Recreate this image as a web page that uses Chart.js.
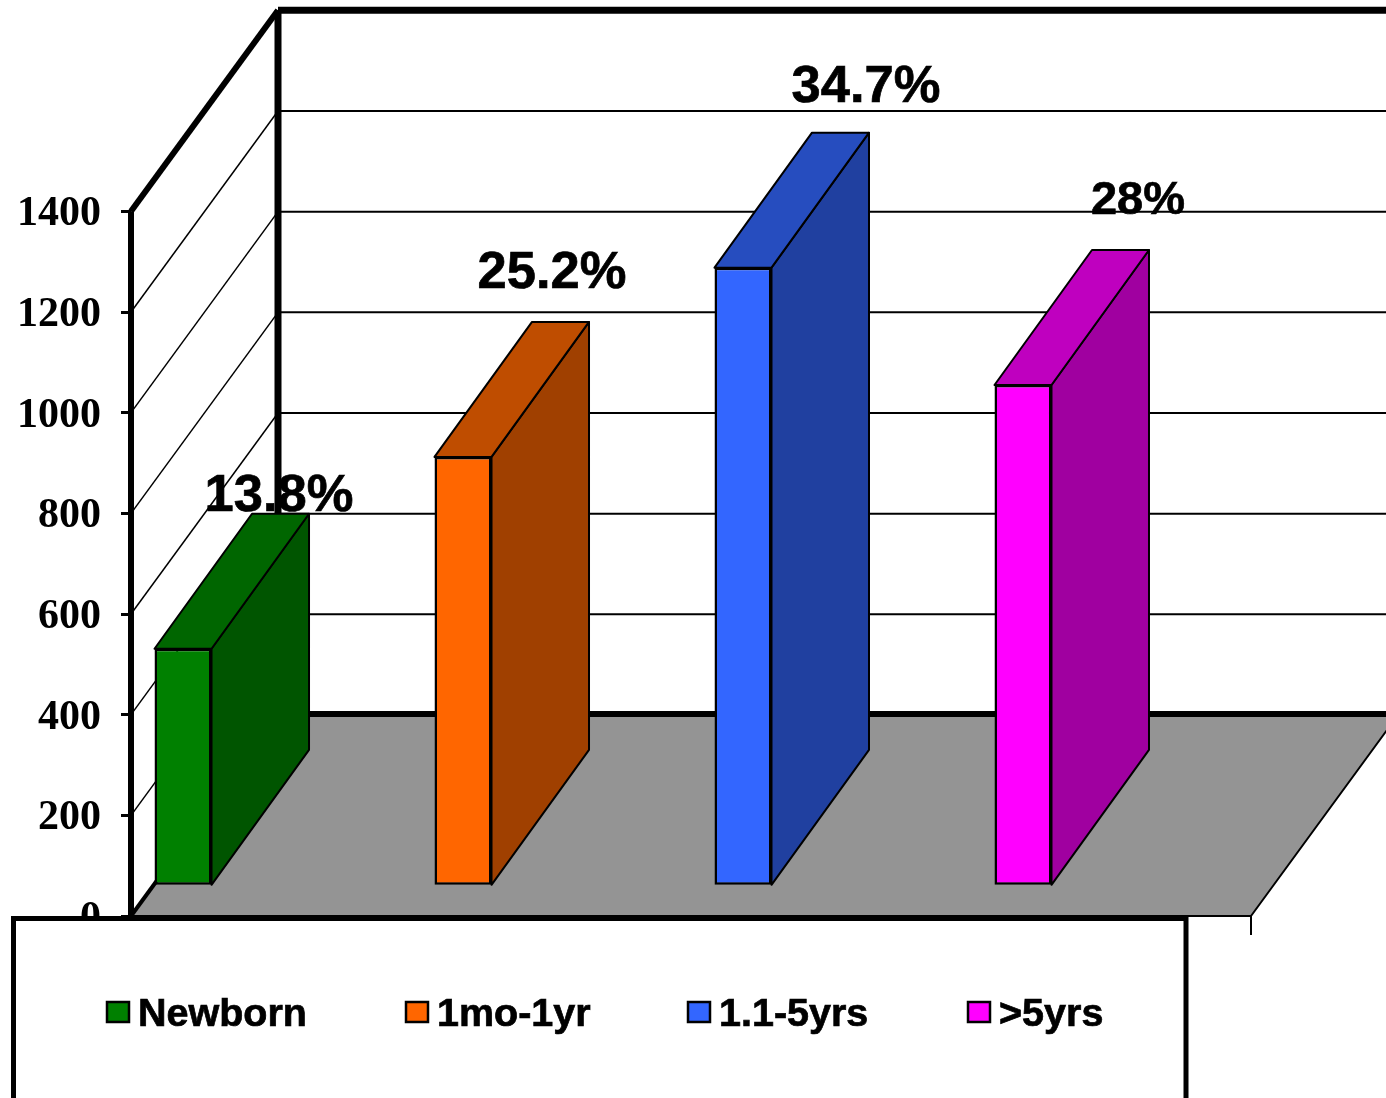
<!DOCTYPE html>
<html>
<head>
<meta charset="utf-8">
<style>
  html, body { margin: 0; padding: 0; background: #fff; }
  canvas { display: block; }
</style>
<script src="https://cdn.jsdelivr.net/npm/chart.js@4"></script>
</head>
<body>
<canvas id="c" width="1386" height="1098"></canvas>
<script>
const seriesNames = ['Newborn', '1mo-1yr', '1.1-5yrs', '>5yrs'];
const seriesValues = [469, 850, 1226, 993];
const percentLabels = ['13.8%', '25.2%', '34.7%', '28%'];
const yTickMax = 1400;
const yAxisMax = 1800;

const frontColors = ['#008000', '#FF6600', '#3366FF', '#FF00FF'];
const topColors = ['#006600', '#BF4D00', '#264DBF', '#BF00BF'];
const sideColors = ['#005500', '#A04000', '#2040A0', '#A000A0'];

// hand placed, the 3d labels do not follow one rule
const labelOffsets = [[96, -138], [89, -169], [123, -166], [115, -171]];
const labelSizes = [52.5, 52.5, 52.5, 47];
const legendX = [107, 406, 688, 968];

const wallDx = 147, wallDy = -201;
const barDx = 97.5, barDy = -135;
const barLift = 62; // bars stand on the floor, a bit behind the front edge
const floorWidth = 1120;

function line(ctx, x1, y1, x2, y2, w) {
  ctx.lineWidth = w;
  ctx.beginPath();
  ctx.moveTo(x1, y1);
  ctx.lineTo(x2, y2);
  ctx.stroke();
}

function poly(ctx, pts, fill, w) {
  ctx.beginPath();
  pts.forEach((p, i) => i ? ctx.lineTo(p[0], p[1]) : ctx.moveTo(p[0], p[1]));
  ctx.closePath();
  ctx.fillStyle = fill;
  ctx.fill();
  if (w) { ctx.lineWidth = w; ctx.stroke(); }
}

const scene = {
  id: 'scene',
  beforeDatasetsDraw(chart) {
    const { ctx, scales: { y } } = chart;
    const W = chart.width;
    const x0 = y.right, y0 = y.getPixelForValue(0);
    const xb = x0 + wallDx;
    ctx.save();
    ctx.strokeStyle = '#000';
    ctx.lineJoin = 'round';

    // floor
    const fr = x0 + floorWidth;
    poly(ctx, [[x0, y0], [xb, y0 + wallDy], [fr + wallDx, y0 + wallDy], [fr, y0]], '#949494', 2);
    line(ctx, fr, y0, fr, y0 + 19, 2);

    // gridlines on the side and back walls
    for (let v = 200; v < yTickMax; v += 200) {
      const p = y.getPixelForValue(v);
      line(ctx, x0, p, xb, p + wallDy, 1.5);
    }
    for (let v = 200; v < yTickMax; v += 200) {
      const p = y.getPixelForValue(v) + wallDy;
      line(ctx, xb, p, W, p, 2);
    }

    // heavy frame
    const top = y.getPixelForValue(yTickMax);
    line(ctx, x0, y0, xb, y0 + wallDy, 4);
    line(ctx, xb, y0 + wallDy - 1, W, y0 + wallDy - 1, 6);
    line(ctx, xb, y0 + wallDy, xb, top + wallDy, 7);
    line(ctx, xb, top + wallDy, W, top + wallDy, 7);
    line(ctx, x0, top, xb, top + wallDy, 6);
    line(ctx, x0, y0, x0, top, 6);

    // top and side faces, taken from the bars the library placed
    seriesNames.forEach((name, i) => {
      const bar = chart.getDatasetMeta(i).data[0];
      const l = bar.x - bar.width / 2, r = bar.x + bar.width / 2;
      poly(ctx, [[r, bar.y], [r + barDx, bar.y + barDy], [r + barDx, bar.base + barDy], [r, bar.base]], sideColors[i], 2);
      poly(ctx, [[l, bar.y], [l + barDx, bar.y + barDy], [r + barDx, bar.y + barDy], [r, bar.y]], topColors[i], 2);
    });
    ctx.restore();
  },
  afterDraw(chart) {
    const { ctx, scales: { y } } = chart;
    ctx.save();
    ctx.fillStyle = '#000';
    ctx.strokeStyle = '#000';
    ctx.textBaseline = 'alphabetic';

    ctx.textAlign = 'center';
    ctx.lineWidth = 0.7;
    seriesNames.forEach((name, i) => {
      const bar = chart.getDatasetMeta(i).data[0];
      const tx = bar.x + labelOffsets[i][0], ty = bar.y + labelOffsets[i][1];
      ctx.font = 'bold ' + labelSizes[i] + 'px "Liberation Sans"';
      ctx.fillText(percentLabels[i], tx, ty);
      ctx.strokeText(percentLabels[i], tx, ty);
    });

    // legend box runs off the bottom of the picture
    const boxTop = y.getPixelForValue(0) + 2.5;
    ctx.fillStyle = '#fff';
    ctx.fillRect(13.5, boxTop, 1172.5, chart.height);
    ctx.lineWidth = 5;
    ctx.strokeRect(13.5, boxTop, 1172.5, chart.height);

    ctx.font = 'bold 39.5px "Liberation Sans"';
    ctx.textAlign = 'left';
    seriesNames.forEach((name, i) => {
      const lx = legendX[i];
      ctx.fillStyle = frontColors[i];
      ctx.lineWidth = 2.5;
      ctx.fillRect(lx, 1002, 22, 20);
      ctx.strokeRect(lx, 1002, 22, 20);
      ctx.fillStyle = '#000';
      ctx.lineWidth = 0.7;
      ctx.fillText(name, lx + 31, 1026);
      ctx.strokeText(name, lx + 31, 1026);
    });
    ctx.restore();
  }
};

new Chart(document.getElementById('c'), {
  type: 'bar',
  data: {
    labels: ['Age group'],
    datasets: seriesNames.map((name, i) => ({
      label: name,
      data: [seriesValues[i]],
      yAxisID: 'yBar',
      backgroundColor: frontColors[i],
      borderColor: '#000',
      borderWidth: 2.5,
      borderSkipped: false,
      categoryPercentage: 1.1864,
      barPercentage: 0.2036
    }))
  },
  options: {
    responsive: false,
    animation: false,
    layout: { padding: { top: 10, bottom: 182, right: 311, left: 0 } },
    plugins: { legend: { display: false }, tooltip: { enabled: false } },
    scales: {
      x: { display: false },
      y: {
        min: 0,
        max: yAxisMax,
        afterFit(scale) {
          scale.width = 131;
          scale.paddingTop = 0;
          scale.paddingBottom = 0;
        },
        border: { display: false },
        grid: {
          drawOnChartArea: false,
          tickLength: 10,
          tickWidth: 3,
          tickColor: (c) => (c.tick && c.tick.value <= yTickMax ? '#000' : 'rgba(0,0,0,0)')
        },
        ticks: {
          stepSize: 200,
          autoSkip: false,
          padding: 20,
          labelOffset: 3,
          color: '#000',
          font: { family: '"Liberation Serif"', size: 42, weight: 'bold' },
          callback: (v) => (v <= yTickMax ? String(v) : '')
        }
      },
      yBar: { display: false, min: -barLift, max: yAxisMax - barLift }
    }
  },
  plugins: [scene]
});
</script>
</body>
</html>
